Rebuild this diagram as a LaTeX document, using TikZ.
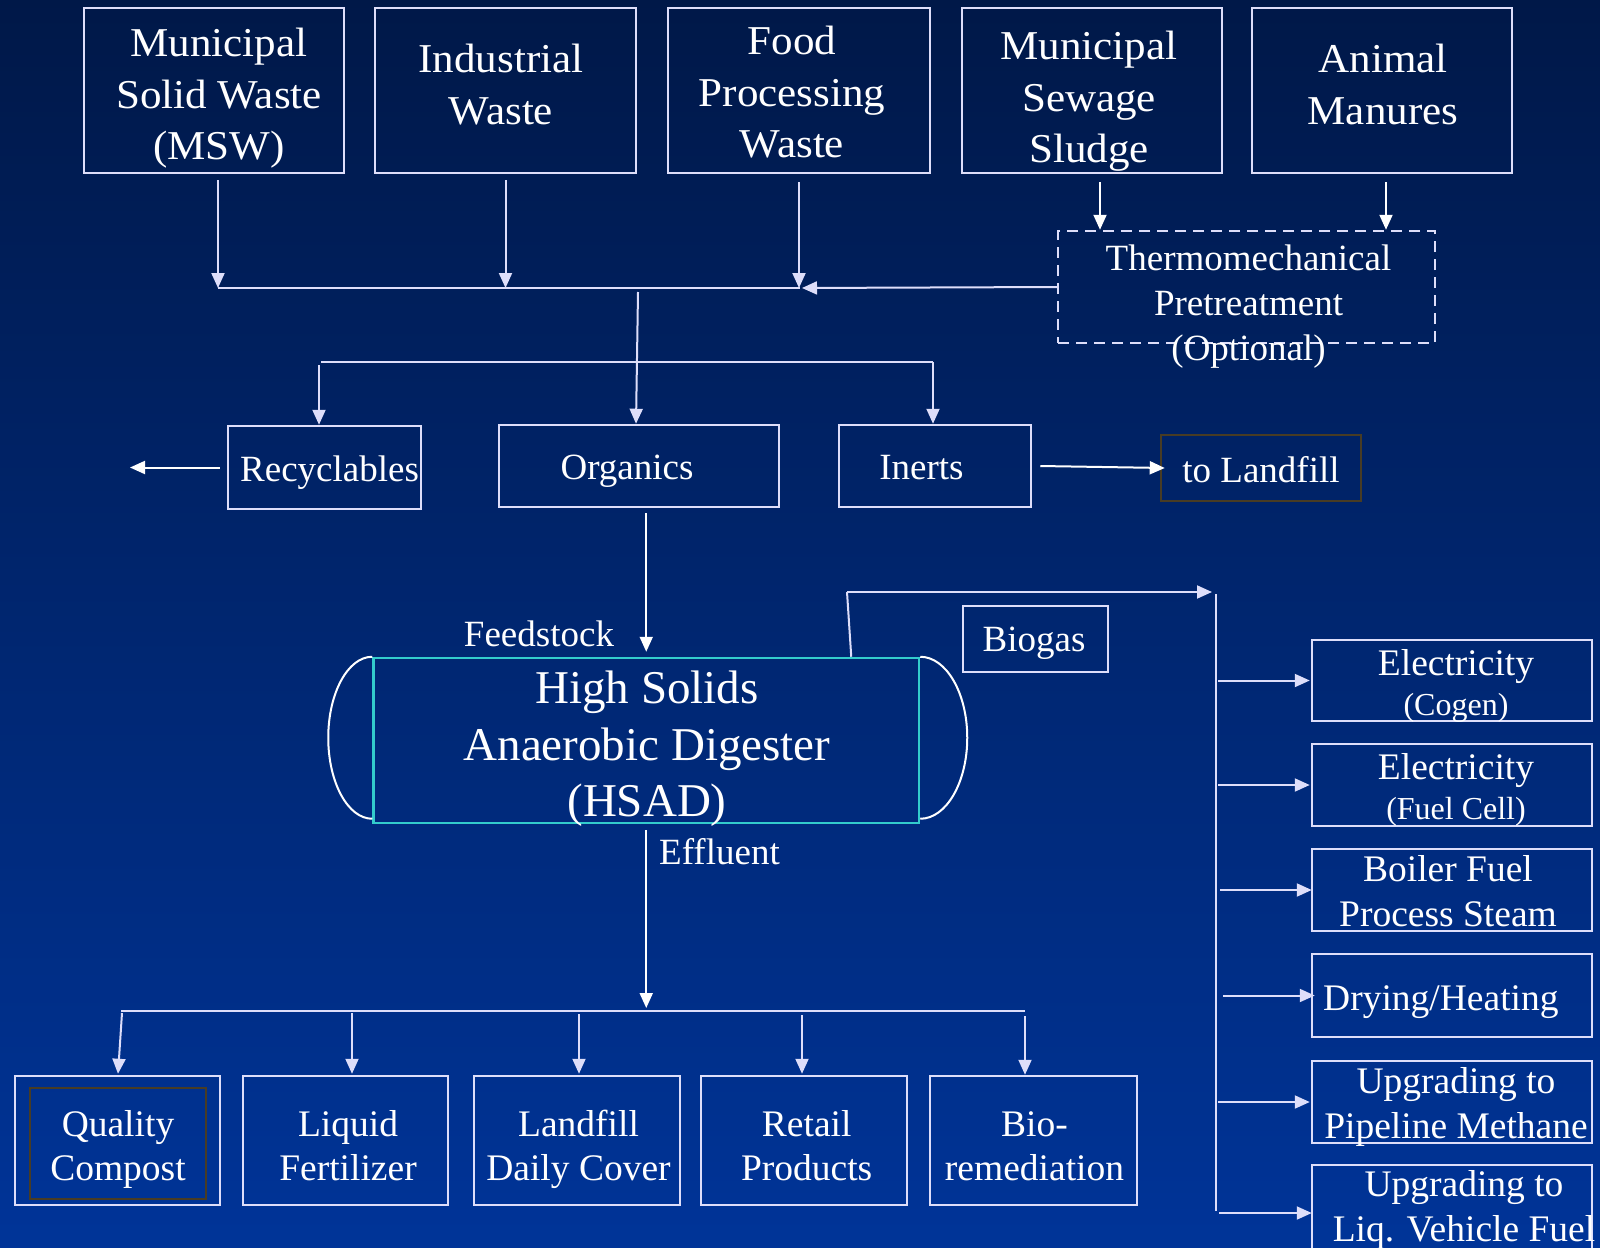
\documentclass[tikz,border=0pt]{standalone}
\usepackage{fontspec}
\setmainfont{Liberation Serif}
\newfontfamily\topserif{Liberation Serif}[FakeStretch=1.05]
\usetikzlibrary{arrows.meta}
\definecolor{bgtop}{RGB}{0,24,72}
\definecolor{bgbot}{RGB}{0,52,152}
\definecolor{lav}{RGB}{222,222,250}
\definecolor{tealb}{RGB}{51,204,204}
\definecolor{brn}{RGB}{72,60,36}
\newcommand\fsTop{\topserif\fontsize{41}{51.5}\selectfont}
\newcommand\fsMid{\fontsize{37}{45}\selectfont}
\newcommand\fsBig{\fontsize{47}{56.4}\selectfont}
\newcommand\fsBot{\fontsize{37.5}{43.3}\selectfont}
\newcommand\fsR{\fontsize{37.5}{40}\selectfont}
\newcommand\fsRs{\fontsize{32}{40}\selectfont}
\newcommand\fsRb{\fontsize{37.5}{45}\selectfont}
\begin{document}
\begin{tikzpicture}[x=1pt,y=-1pt,
  box/.style={draw=lav, line width=2.5pt, inner sep=0pt, rectangle},
  txt/.style={text=white, inner sep=0pt, align=center},
  conn/.style={draw=lav, line width=2pt},
  arr/.style={conn, -{Triangle[length=15pt,width=13pt]}},
  arrw/.style={draw=white, line width=2pt, -{Triangle[length=15pt,width=13pt]}},
  capline/.style={draw=white, line width=2pt}
]
\useasboundingbox (0,0) rectangle (1600,1247);
\shade[top color=bgtop, bottom color=bgbot] (0,0) rectangle (1600,1247);

% top sources
\node[box, minimum width=260pt, minimum height=165pt] (msw) at (214,90.5) {};
\node[box, minimum width=261pt, minimum height=165pt] (ind) at (505.5,90.5) {};
\node[box, minimum width=262pt, minimum height=165pt] (food) at (799,90.5) {};
\node[box, minimum width=260pt, minimum height=165pt] (sew) at (1092,90.5) {};
\node[box, minimum width=260pt, minimum height=165pt] (ani) at (1382,90.5) {};
\node[txt, font=\fsTop] (msw-t) at (219,98) {\strut Municipal\\\strut Solid Waste\\\strut (MSW)};
\node[txt, font=\fsTop] (ind-t) at (501,88.1) {\strut Industrial\\\strut Waste};
\node[txt, font=\fsTop] (food-t) at (792,95.7) {\strut Food\\\strut Processing\\\strut Waste};
\node[txt, font=\fsTop] (sew-t) at (1089,100.7) {\strut Municipal\\\strut Sewage\\\strut Sludge};
\node[txt, font=\fsTop] (ani-t) at (1383,88.1) {\strut Animal\\\strut Manures};

% pretreatment
\node[box, dashed, dash pattern=on 11pt off 7pt, draw=lav, minimum width=377pt, minimum height=112pt] (thermo) at (1246.5,287) {};
\node[txt, font=\fsMid] (thermo-t) at (1248.5,306) {\strut Thermomechanical\\\strut Pretreatment\\\strut (Optional)};

% collection bus
\coordinate (busL) at (218,288);
\coordinate (busM) at (800,288);
\draw[arr] ([xshift=4pt,yshift=-6pt]msw.south) -- ([xshift=4pt]msw.south |- busL);
\draw[arr] ([yshift=-6pt]ind.south) -- (ind.south |- busL);
\draw[arr] ([yshift=-8pt]food.south) -- (food.south |- busL);
\draw[conn] (busL) -- (busM);
\draw[arr] (thermo.west) -- ([xshift=2pt]busM);
\draw[arrw] ([xshift=8pt,yshift=-8pt]sew.south) -- ([xshift=8pt]sew.south |- thermo.north);
\draw[arrw] ([xshift=4pt,yshift=-8pt]ani.south) -- ([xshift=4pt]ani.south |- thermo.north);

% separation
\node[box, minimum width=193pt, minimum height=83pt] (recyc) at (324.5,467.5) {};
\node[box, minimum width=280pt, minimum height=82pt] (org) at (639,466) {};
\node[box, minimum width=192pt, minimum height=82pt] (inerts) at (935,466) {};
\node[box, draw=brn, minimum width=200pt, minimum height=66pt] (landfill) at (1261,468) {};
\node[txt, font=\fsMid, anchor=base west] (recyc-t) at (240,481.7) {Recyclables};
\node[txt, font=\fsMid, anchor=base] (org-t) at (627,479) {Organics};
\node[txt, font=\fsMid, anchor=base] (inerts-t) at (921.5,479) {Inerts};
\node[txt, font=\fsMid, anchor=base] (landfill-t) at (1261,482) {to Landfill};

\coordinate (split1) at (638,292);
\coordinate (bus2L) at (319,362);
\coordinate (bus2R) at (933,362);
\coordinate (recout) at (130,467.5);
\draw[arr] (split1) -- ([xshift=-3pt]org.north);
\draw[conn] ([xshift=2pt]bus2L) -- (bus2R);
\draw[arr] ([yshift=-3pt]bus2L) -- (bus2L |- recyc.north);
\draw[arr] (bus2R) -- (bus2R |- inerts.north);
\draw[arrw] ([xshift=-7pt]recyc.west) -- (recout);
\draw[arrw] ([xshift=8pt]inerts.east) -- ([xshift=5pt]landfill.west);

% digester
\node[box, draw=tealb, minimum width=545.5pt, minimum height=165pt] (hsad) at (646.25,740.5) {};
\draw[capline] (hsad.north west) arc[start angle=90, end angle=270, x radius=44pt, y radius=81pt];
\draw[capline] (hsad.north east) arc[start angle=90, end angle=-90, x radius=47pt, y radius=81pt];
\node[txt, font=\fsBig] (hsad-t) at (647,749) {\strut High Solids\\\strut Anaerobic Digester\\\strut (HSAD)};
\node[txt, font=\fsMid, anchor=base] (feed-t) at (539,646) {Feedstock};
\node[txt, font=\fsMid, anchor=base west] (eff-t) at (659,864) {Effluent};
\draw[arrw] ([yshift=-5pt]org.south -| hsad.north) -- ([yshift=5pt]hsad.north);

% biogas
\node[box, minimum width=145pt, minimum height=66pt] (biogas) at (1035.5,639) {};
\node[txt, font=\fsMid, anchor=base] (biogas-t) at (1034,651.7) {Biogas};
\coordinate (bgc) at (847,592);
\coordinate (busT) at (1216,594);
\coordinate (busB) at (1216,1211);
\draw[conn] ([xshift=205pt]hsad.north) -- (bgc);
\draw[arr] (bgc) -- ([xshift=-4pt]bgc -| busT);
\draw[conn] (busT) -- (busB);

% energy uses
\node[box, minimum width=280pt, minimum height=81pt] (e1) at (1452,680.5) {};
\node[box, minimum width=280pt, minimum height=82pt] (e2) at (1452,785) {};
\node[box, minimum width=280pt, minimum height=82pt] (e3) at (1452,890) {};
\node[box, minimum width=280pt, minimum height=83pt] (e4) at (1452,995.5) {};
\node[box, minimum width=280pt, minimum height=82pt] (e5) at (1452,1102) {};
\node[box, minimum width=280pt, minimum height=84pt] (e6) at (1452,1207) {};
\node[txt, font=\fsR] (e1-t) at (1456,687.6) {\strut Electricity\\{\fsRs\strut (Cogen)}};
\node[txt, font=\fsR] (e2-t) at (1456,791.7) {\strut Electricity\\{\fsRs\strut (Fuel Cell)}};
\node[txt, font=\fsRb] (e3-t) at (1448,895) {\strut Boiler Fuel\\\strut Process Steam};
\node[txt, font=\fsRb, anchor=base west] (e4-t) at (1323,1010.6) {Drying/Heating};
\node[txt, font=\fsRb] (e5-t) at (1456,1107.3) {\strut Upgrading to\\\strut Pipeline Methane};
\node[txt, font=\fsRb] (e6-t) at (1464,1210.4) {\strut Upgrading to\\\strut Liq. Vehicle Fuel};
\draw[arr] ([xshift=2pt]busT |- e1.west) -- ([xshift=-1pt]e1.west);
\draw[arr] ([xshift=2pt]busT |- e2.west) -- ([xshift=-1pt]e2.west);
\draw[arr] ([xshift=4pt]busT |- e3.west) -- ([xshift=1pt]e3.west);
\draw[arr] ([xshift=7pt]busT |- e4.west) -- ([xshift=4pt]e4.west);
\draw[arr] ([xshift=2pt]busT |- e5.west) -- ([xshift=-1pt]e5.west);
\draw[arr] ([xshift=3pt,yshift=-6pt]busT |- e6.west) -- ([xshift=1pt,yshift=-6pt]e6.west);

% effluent uses
\coordinate (b3L) at (121,1011);
\coordinate (b3R) at (1025,1011);
\draw[arrw] ([yshift=-6pt]hsad.south) -- ([yshift=3pt]hsad.south |- b3L);
\draw[conn] (b3L) -- (b3R);
\node[box, minimum width=205pt, minimum height=129pt] (qc) at (117.5,1140.5) {};
\node[box, draw=brn, minimum width=176pt, minimum height=111pt] (qc-in) at (118,1143.5) {};
\node[box, minimum width=205pt, minimum height=129pt] (lf) at (345.5,1140.5) {};
\node[box, minimum width=206pt, minimum height=129pt] (ldc) at (577,1140.5) {};
\node[box, minimum width=206pt, minimum height=129pt] (rp) at (804,1140.5) {};
\node[box, minimum width=207pt, minimum height=129pt] (bio) at (1033.5,1140.5) {};
\node[txt, font=\fsBot] (qc-t) at (118,1149.7) {\strut Quality\\\strut Compost};
\node[txt, font=\fsBot] (lf-t) at (348,1149.7) {\strut Liquid\\\strut Fertilizer};
\node[txt, font=\fsBot] (ldc-t) at (578.5,1149.7) {\strut Landfill\\\strut Daily Cover};
\node[txt, font=\fsBot] (rp-t) at (806.7,1149.7) {\strut Retail\\\strut Products};
\node[txt, font=\fsBot] (bio-t) at (1034.5,1149.7) {\strut Bio-\\\strut remediation};
\draw[arr] ([xshift=1pt,yshift=-2pt]b3L) -- ([xshift=0.5pt,yshift=1pt]qc.north);
\draw[arr] ([xshift=6.5pt,yshift=-2pt]lf.north |- b3L) -- ([xshift=6.5pt,yshift=1pt]lf.north);
\draw[arr] ([xshift=2pt,yshift=-3pt]ldc.north |- b3L) -- ([xshift=2pt,yshift=1pt]ldc.north);
\draw[arr] ([xshift=-2pt,yshift=-4pt]rp.north |- b3L) -- ([xshift=-2pt,yshift=1pt]rp.north);
\draw[arr] ([xshift=-8.5pt,yshift=-5pt]bio.north |- b3L) -- ([xshift=-8.5pt]bio.north);
\end{tikzpicture}
\end{document}
